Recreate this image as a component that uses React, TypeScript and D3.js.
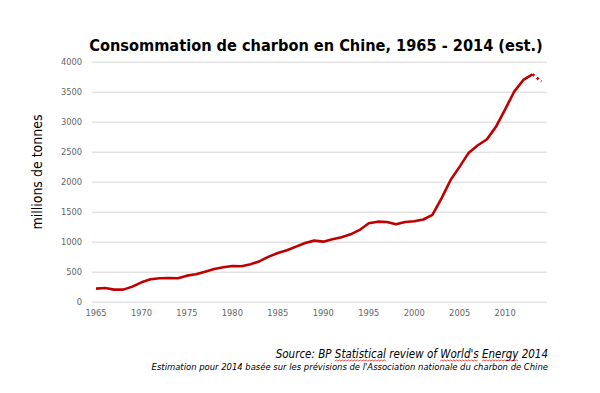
import { useEffect, useRef, useState } from "react";
import * as d3 from "d3";

const years = d3.range(1965, 2015);
const consumption = [
  228, 239, 211, 211, 261, 333, 383, 400, 406, 400,
  444, 467, 511, 556, 583, 606, 600, 633, 685, 761,
  822, 867, 928, 989, 1028, 1011, 1050, 1083, 1133, 1206,
  1317, 1344, 1339, 1300, 1339, 1350, 1380, 1456, 1733, 2039,
  2261, 2494, 2617, 2717, 2928, 3217, 3511, 3706, 3800, 3680,
];
const yTicks = [0, 500, 1000, 1500, 2000, 2500, 3000, 3500, 4000];
const xTicks = [1965, 1970, 1975, 1980, 1985, 1990, 1995, 2000, 2005, 2010];

const title = "Consommation de charbon en Chine, 1965 - 2014 (est.)";
const yLabel = "millions de tonnes";
const source = "Source: BP Statistical review of World's Energy 2014";
const spellWords = ["Statistical", "World's", "Energy"];
const note = "Estimation pour 2014 basée sur les prévisions de l'Association nationale du charbon de Chine";

export default function App() {
  const width = 600;
  const height = 393;
  const x = d3.scaleLinear().domain([1965, 2014]).range([96, 541.5]);
  const y = d3.scaleLinear().domain([0, 4000]).range([302.3, 62.3]);

  const pts = years.map((yr, i) => ({ yr, v: consumption[i] }));
  const line = d3
    .line<{ yr: number; v: number }>()
    .x((d) => x(d.yr))
    .y((d) => y(d.v));
  const solid = pts.filter((d) => d.yr <= 2013);
  const est = pts.filter((d) => d.yr >= 2013);

  const tickFont = "DejaVu Sans, sans-serif";
  const textFont = "DejaVu Sans Condensed, DejaVu Sans, sans-serif";

  // red squiggles under the words the spellchecker flagged
  const srcRef = useRef<SVGTextElement>(null);
  const [squiggles, setSquiggles] = useState<string[]>([]);
  useEffect(() => {
    const el = srcRef.current;
    if (!el) return;
    const paths: string[] = [];
    spellWords.forEach((w) => {
      const i = source.indexOf(w);
      const a = el.getExtentOfChar(i);
      const b = el.getExtentOfChar(i + w.length - 1);
      const x0 = a.x;
      const x1 = b.x + b.width;
      const yy = 361;
      let d = `M${x0},${yy}`;
      let up = true;
      for (let xx = x0 + 1.5; xx <= x1; xx += 1.5) {
        d += `L${xx},${up ? yy - 1 : yy}`;
        up = !up;
      }
      paths.push(d);
    });
    setSquiggles(paths);
  }, []);

  return (
    <svg
      width={width}
      height={height}
      style={{ position: "absolute", left: 0, top: 0, background: "#fff" }}
    >
      <text
        x={316}
        y={51}
        textAnchor="middle"
        fontFamily={textFont}
        fontWeight="bold"
        fontSize={16.2}
        fill="#000"
      >
        {title}
      </text>

      <g>
        {yTicks.map((t) => (
          <g key={t}>
            <line x1={92} x2={547} y1={y(t)} y2={y(t)} stroke="#e3e3e3" strokeWidth={1.5} />
            <text
              x={82}
              y={y(t) + 3}
              textAnchor="end"
              fontFamily={tickFont}
              fontSize={8.3}
              fill="#666"
            >
              {t}
            </text>
          </g>
        ))}
        {xTicks.map((t) => (
          <text
            key={t}
            x={x(t)}
            y={316}
            textAnchor="middle"
            fontFamily={tickFont}
            fontSize={8.3}
            fill="#666"
          >
            {t}
          </text>
        ))}
      </g>

      <text
        transform="translate(42,172) rotate(-90)"
        textAnchor="middle"
        fontFamily={textFont}
        fontSize={14}
        fill="#000"
      >
        {yLabel}
      </text>

      <path
        d={line(solid) ?? ""}
        fill="none"
        stroke="#c00000"
        strokeWidth={2.6}
        strokeLinejoin="round"
      />
      <path
        d={line(est) ?? ""}
        fill="none"
        stroke="#c00000"
        strokeWidth={2.6}
        strokeDasharray="2.5 3"
      />

      <text
        ref={srcRef}
        x={548}
        y={358}
        textAnchor="end"
        fontFamily={textFont}
        fontStyle="italic"
        fontSize={11.5}
        fill="#000"
      >
        {source}
      </text>
      {squiggles.map((d, i) => (
        <path key={i} d={d} fill="none" stroke="#e02020" strokeWidth={0.8} />
      ))}
      <text
        x={548}
        y={370}
        textAnchor="end"
        fontFamily={textFont}
        fontStyle="italic"
        fontSize={9.4}
        fill="#000"
      >
        {note}
      </text>
    </svg>
  );
}
